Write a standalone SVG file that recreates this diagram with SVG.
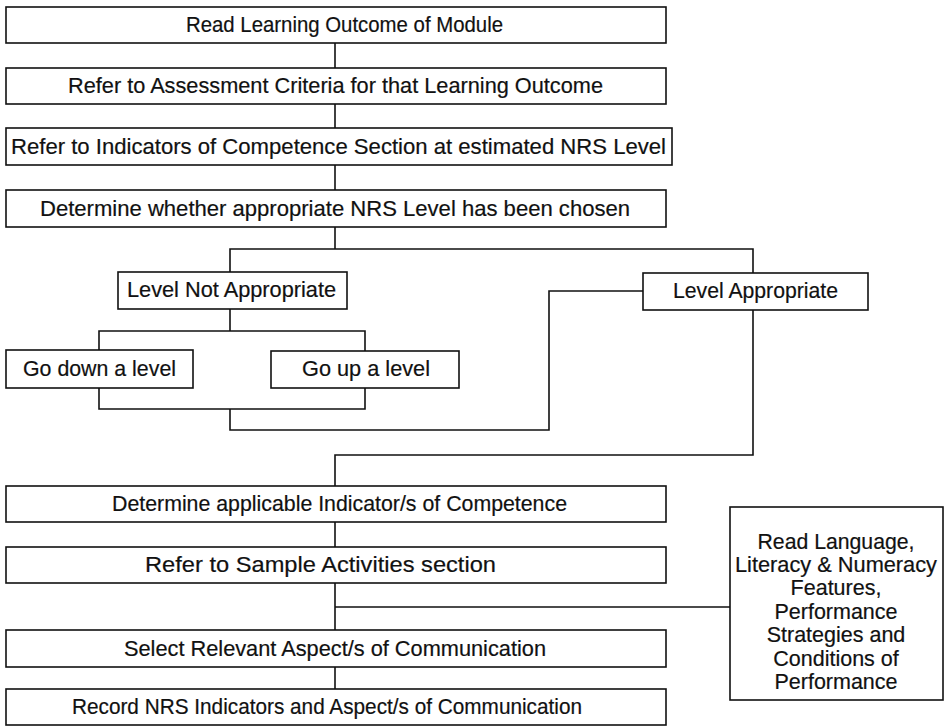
<svg xmlns="http://www.w3.org/2000/svg" width="946" height="726" viewBox="0 0 946 726">
  <style>
    .box { fill: #ffffff; stroke: #111111; stroke-width: 1.6; }
    .lbl { font-family: "Liberation Sans", Arial, Helvetica, sans-serif; font-size: 22px; fill: #111111; stroke: #111111; stroke-width: 0.2; text-anchor: middle; }
    .side { font-size: 21.5px; }
    .wire { fill: none; stroke: #111111; stroke-width: 1.6; stroke-linejoin: miter; }
  </style>
  <rect width="946" height="726" fill="#ffffff"/>

  <!-- connectors -->
  <g id="connectors" class="wire">
    <path d="M335 43 V68"/>
    <path d="M335 104 V128"/>
    <path d="M335 165 V190"/>
    <path d="M335 227 V249 M230 272 V249 H753 V273"/>
    <path d="M230 309 V331 M99 350 V331 H365 V351"/>
    <path d="M99 388 V409 H365 V388 M230 409 V430 H549 V291 H643"/>
    <path d="M753 310 V455 H335 V486"/>
    <path d="M335 522 V547"/>
    <path d="M335 583 V630 M335 607 H730"/>
    <path d="M335 667 V689"/>
  </g>

  <g id="read-outcome">
    <rect class="box" x="6" y="7" width="660" height="36"/>
    <text class="lbl" x="344.5" y="32" textLength="317" lengthAdjust="spacingAndGlyphs">Read Learning Outcome of Module</text>
  </g>
  <g id="assessment-criteria">
    <rect class="box" x="6" y="68" width="660" height="36"/>
    <text class="lbl" x="335.5" y="93" textLength="535" lengthAdjust="spacingAndGlyphs">Refer to Assessment Criteria for that Learning Outcome</text>
  </g>
  <g id="indicators-section">
    <rect class="box" x="6" y="128" width="666" height="37"/>
    <text class="lbl" x="338.5" y="154" textLength="655" lengthAdjust="spacingAndGlyphs">Refer to Indicators of Competence Section at estimated NRS Level</text>
  </g>
  <g id="determine-level">
    <rect class="box" x="6" y="190" width="660" height="37"/>
    <text class="lbl" x="335" y="216" textLength="590" lengthAdjust="spacingAndGlyphs">Determine whether appropriate NRS Level has been chosen</text>
  </g>
  <g id="level-not-appropriate">
    <rect class="box" x="118" y="272" width="229" height="37"/>
    <text class="lbl" x="231.5" y="297" textLength="209" lengthAdjust="spacingAndGlyphs">Level Not Appropriate</text>
  </g>
  <g id="level-appropriate">
    <rect class="box" x="643" y="273" width="225" height="37"/>
    <text class="lbl" x="755.5" y="298" textLength="165" lengthAdjust="spacingAndGlyphs">Level Appropriate</text>
  </g>
  <g id="go-down">
    <rect class="box" x="6" y="350" width="187" height="38"/>
    <text class="lbl" x="99.5" y="376" textLength="153" lengthAdjust="spacingAndGlyphs">Go down a level</text>
  </g>
  <g id="go-up">
    <rect class="box" x="271" y="351" width="188" height="37"/>
    <text class="lbl" x="366" y="376" textLength="128" lengthAdjust="spacingAndGlyphs">Go up a level</text>
  </g>
  <g id="applicable-indicators">
    <rect class="box" x="6" y="486" width="660" height="36"/>
    <text class="lbl" x="339.5" y="511" textLength="455" lengthAdjust="spacingAndGlyphs">Determine applicable Indicator/s of Competence</text>
  </g>
  <g id="sample-activities">
    <rect class="box" x="6" y="547" width="660" height="36"/>
    <text class="lbl" x="320.5" y="572" textLength="351" lengthAdjust="spacingAndGlyphs">Refer to Sample Activities section</text>
  </g>
  <g id="select-aspects">
    <rect class="box" x="6" y="630" width="660" height="37"/>
    <text class="lbl" x="335" y="656" textLength="422" lengthAdjust="spacingAndGlyphs">Select Relevant Aspect/s of Communication</text>
  </g>
  <g id="record-indicators">
    <rect class="box" x="6" y="689" width="660" height="36"/>
    <text class="lbl" x="327" y="714" textLength="510" lengthAdjust="spacingAndGlyphs">Record NRS Indicators and Aspect/s of Communication</text>
  </g>
  <g id="lln-features">
    <rect class="box" x="730" y="507" width="213" height="193"/>
    <text class="lbl side" x="836" y="549" textLength="157" lengthAdjust="spacingAndGlyphs">Read Language,</text>
    <text class="lbl side" x="836" y="572" textLength="202" lengthAdjust="spacingAndGlyphs">Literacy &amp; Numeracy</text>
    <text class="lbl side" x="836" y="595">Features,</text>
    <text class="lbl side" x="836" y="618.5">Performance</text>
    <text class="lbl side" x="836" y="642">Strategies and</text>
    <text class="lbl side" x="836" y="665.5">Conditions of</text>
    <text class="lbl side" x="836" y="689">Performance</text>
  </g>
</svg>
